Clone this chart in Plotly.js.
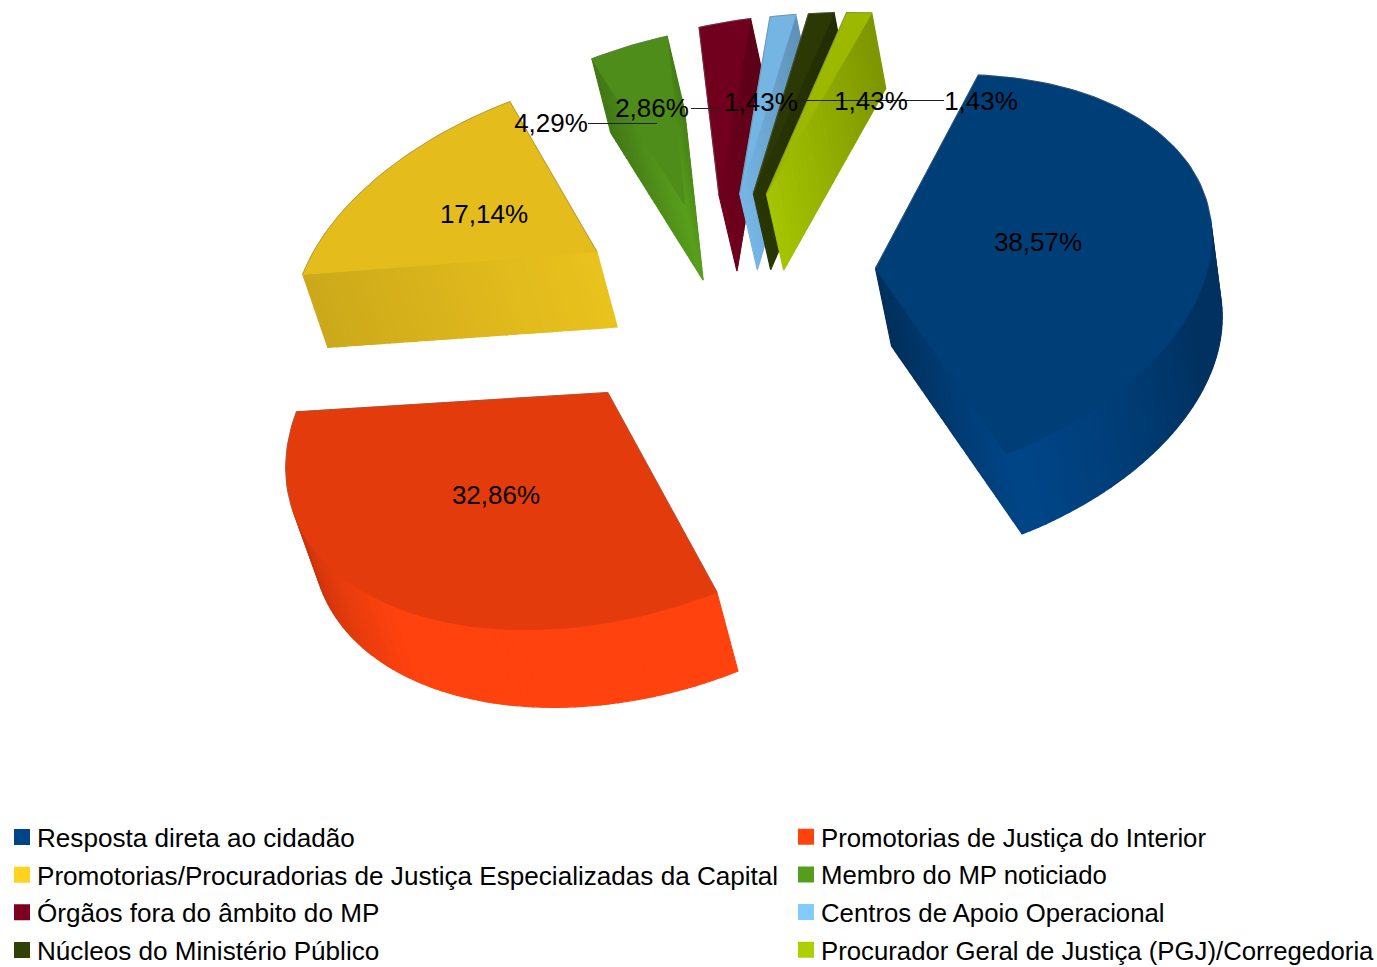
<!DOCTYPE html>
<html><head><meta charset="utf-8">
<script src="https://cdn.plot.ly/plotly-3.0.1.min.js"></script>
<style>html,body{margin:0;padding:0;background:#fff}#c{width:1377px;height:967px}</style>
</head><body><div id="c"></div>
<script>
const categories=["Resposta direta ao cidadão","Promotorias de Justiça do Interior","Promotorias/Procuradorias de Justiça Especializadas da Capital","Membro do MP noticiado","Órgãos fora do âmbito do MP","Centros de Apoio Operacional","Núcleos do Ministério Público","Procurador Geral de Justiça (PGJ)/Corregedoria"];
const values=[38.57,32.86,17.14,4.29,2.86,1.43,1.43,1.43];
const colors=["#004586","#ff420e","#ffd320","#579d1c","#7e0021","#83caff","#314004","#aecf00"];
const explode=[0.493,0.514,0.498,0.500,0.507,0.501,0.499,0.497];
const labelText=["38,57%","32,86%","17,14%","4,29%","2,86%","1,43%","1,43%","1,43%"];
const labelX=[1038,496,484,551,652,761,871,981];
const labelY=[244,497,216,125,110,104,103,103];
const leaderX=[[588,657],[691,721],[797,944]];
const leaderY=[[123.5,123.5],[108.5,108.5],[100.5,100.5]];
// Perspective of the pie plane onto the page
const H=[263.77,166.04,715.77,9.91,-186.41,293.30,-0.0474414,0.0656972];
const total=values.reduce((a,b)=>a+b,0);
let acc=0;const starts=[],ends=[],mids=[];
values.forEach(v=>{const a=acc/total*2*Math.PI;acc+=v;const b=acc/total*2*Math.PI;starts.push(a);ends.push(b);mids.push((a+b)/2);});
function proj(i,t,r){const e=explode[i];const x=e*Math.sin(mids[i])+r*Math.sin(t),y=e*Math.cos(mids[i])+r*Math.cos(t);
 const w=H[6]*x+H[7]*y+1;return [(H[0]*x+H[1]*y+H[2])/w,(H[3]*x+H[4]*y+H[5])/w];}
function sh(hex,f){const n=parseInt(hex.slice(1),16);const c=[n>>16,(n>>8)&255,n&255].map(v=>Math.min(255,Math.round(v*f)));return `rgb(${c})`;}
function depth(q){return [25-.0157*(q[0]-300)+.008*(q[1]-260),73+.008*(q[0]-300)+.008*(q[1]-260)];}
function down(q){const d=depth(q);return [q[0]+d[0],q[1]+d[1]];}
const traces=[];
function poly(pts,col){traces.push({type:"scatter",mode:"lines",x:pts.map(q=>q[0]).concat(pts[0][0]),y:pts.map(q=>q[1]).concat(pts[0][1]),fill:"toself",fillcolor:col,line:{color:col,width:1.2},showlegend:false,hoverinfo:"skip"});}
function visible(a,b){const e=[b[0]-a[0],b[1]-a[1]];const d=depth(a);return d[0]*e[1]-d[1]*e[0]>0;}
const endWall=[[.68,1],null,null,[1.02,.8],[.88,.72],[.9,.72],[.85,.7],[.95,.72]];
const startWall=[null,null,[.92,.8],[1.02,.76],null,null,null,null];
function radial(i,t,f,rev){if(!f)return;const N=32;for(let k=0;k<N;k++){const a=proj(i,t,k/N),b=proj(i,t,(k+1)/N);const p=rev?[b,a]:[a,b];if(!visible(p[0],p[1]))return;poly([a,b,down(b),down(a)],sh(colors[i],f[0]+(f[1]-f[0])*(k+.5)/N));}}
function wallShade(t){const d=t*180/Math.PI;if(d<95)return .72;if(d<135)return .72+.28*(d-95)/40;if(d<195)return 1;if(d<240)return 1-.28*(d-195)/45;return .72;}
colors.forEach((col,i)=>{
 radial(i,starts[i],startWall[i],false);radial(i,ends[i],endWall[i],true);
 const N=Math.max(4,Math.round((ends[i]-starts[i])*40));
 for(let k=0;k<N;k++){const t0=starts[i]+(ends[i]-starts[i])*k/N,t1=starts[i]+(ends[i]-starts[i])*(k+1)/N;const a=proj(i,t0,1),b=proj(i,t1,1);if(!visible(a,b))continue;
  poly([a,b,down(b),down(a)],sh(col,wallShade((t0+t1)/2)));}
 const top=[proj(i,0,0)];const M=Math.max(6,Math.round((ends[i]-starts[i])*40));for(let k=0;k<=M;k++)top.push(proj(i,starts[i]+(ends[i]-starts[i])*k/M,1));
 poly(top,sh(col,.895));
 const ex=[],ey=[];const closed=top.concat([top[0]]);
 for(let k=0;k<closed.length-1;k++){if(!visible(closed[k],closed[k+1])){ex.push(closed[k][0],closed[k+1][0],null);ey.push(closed[k][1],closed[k+1][1],null);}}
 traces.push({type:"scatter",mode:"lines",x:ex,y:ey,line:{color:"rgba(110,110,110,0.55)",width:.8},showlegend:false,hoverinfo:"skip"});
});
leaderX.forEach((x,i)=>traces.push({type:"scatter",mode:"lines",x,y:leaderY[i],line:{color:"#222",width:1},showlegend:false,hoverinfo:"skip"}));
traces.push({type:"scatter",mode:"text",x:labelX,y:labelY,text:labelText,textposition:"middle center",textfont:{family:"Liberation Sans",size:26,color:"#000"},showlegend:false,hoverinfo:"skip"});
categories.forEach((n,i)=>traces.push({type:"scatter",mode:"markers",name:n,x:[null],y:[null],marker:{symbol:"square",size:16,color:colors[i]},legend:i%2?"legend2":"legend",legendgroup:"g"+i}));
const legendBase={xanchor:"left",y:1-813.5/967,yanchor:"top",bgcolor:"rgba(0,0,0,0)",itemsizing:"trace"};
const layout={width:1377,height:967,margin:{l:0,r:0,t:0,b:0,autoexpand:false},paper_bgcolor:"#fff",plot_bgcolor:"#fff",hovermode:false,
 xaxis:{range:[0,1377],visible:false,fixedrange:true},yaxis:{range:[967,0],visible:false,fixedrange:true},
 legend:Object.assign({x:-3/1377,font:{family:"Liberation Sans",size:26.1,color:"#000"},tracegroupgap:0.74},legendBase),
 legend2:Object.assign({x:781/1377,font:{family:"Liberation Sans",size:25.75,color:"#000"},tracegroupgap:1.2},legendBase)};
Plotly.newPlot("c",traces,layout,{displayModeBar:false,staticPlot:true}).then(()=>{document.querySelectorAll(".legendsymbols").forEach(s=>s.setAttribute("transform","translate(5,0)"));});
</script></body></html>
